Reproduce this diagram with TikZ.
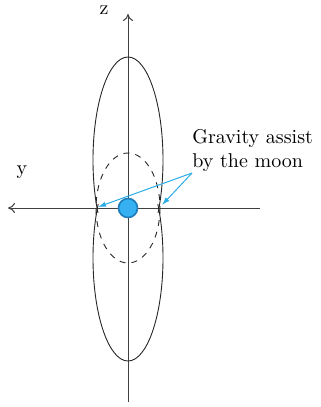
\documentclass[tikz,border=0pt]{standalone}
\usepackage{tikz}
\usetikzlibrary{positioning, arrows, arrows.meta}
\tikzset{>={Computer Modern Rightarrow[length=3.5pt,width=5pt]}}
\definecolor{moonblue}{HTML}{35B0F0}
\definecolor{moonedge}{HTML}{1E7DBA}
\definecolor{assistblue}{HTML}{2AACE6}
\tikzset{
    axis/.style = {draw=black!75, line width=0.5pt, ->},
    orbit/.style = {draw=black!85, line width=0.45pt},
    moon/.style = {circle, draw=moonedge, fill=moonblue, line width=0.8pt,
                        minimum size=9.5pt, inner sep=0pt},
    pointer/.style = {draw=assistblue, line width=0.5pt, -{Latex[length=4pt,width=2.6pt]}}
}

\begin{document}
\begin{tikzpicture}[x=0.5pt, y=-0.5pt]
			\tikzstyle{every node}=[font=\normalsize]
			\useasboundingbox (0,0) rectangle (321,407);
			% axes
			\coordinate (o) at (128,208);
			\coordinate (ztop) at (128,14);
			\coordinate (zbot) at (128,402);
			\coordinate (yleft) at (8,208);
			\coordinate (yright) at (260,208);
			\draw [axis] (zbot) -- (ztop);
			\draw [axis] (yright) -- (yleft);
			\node (zlabel) at (104,10) {z};
			\node (ylabel) at (22,172) {y};
			% orbits, each one cut off just past the y axis
			\begin{scope}
				\clip (0,0) rectangle (321,212);
				\draw [orbit] (128,160) ellipse [x radius=35, y radius=103];
			\end{scope}
			\begin{scope}
				\clip (0,204) rectangle (321,407);
				\draw [orbit] (128,258) ellipse [x radius=35, y radius=103];
			\end{scope}
			\draw [orbit, dashed] (o) ellipse [x radius=32, y radius=55];
			% moon and the two assist points
			\node (moon) [moon] at (o) {};
			\coordinate (assistL) at (98,207);
			\coordinate (assistR) at (162,205);
			\node (note) [align=left, anchor=north west, inner sep=0pt] at (192,129) {Gravity assist\\by the moon};
			\coordinate (src) at (192,173);
			\draw [pointer] (src) -- (assistL);
			\draw [pointer] (src) -- (assistR);
		\end{tikzpicture}
\end{document}
